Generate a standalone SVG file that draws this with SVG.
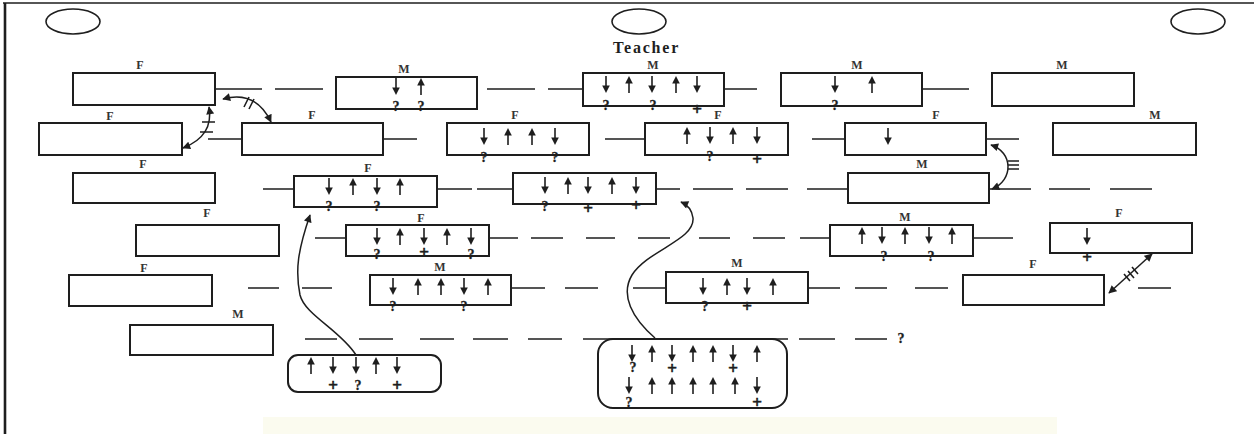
<svg xmlns="http://www.w3.org/2000/svg" xmlns:xlink="http://www.w3.org/1999/xlink" width="1256" height="434" viewBox="0 0 1256 434">
<style>
.bx{fill:#fff;stroke:#1e1e1e;stroke-width:2}
.rb{fill:none;stroke:#1e1e1e;stroke-width:1.6}
.ln{stroke:#1e1e1e;stroke-width:1.6;fill:none}
.cv{stroke:#1e1e1e;stroke-width:1.5;fill:none}
.lb{font-family:"Liberation Serif","Times New Roman",serif;font-weight:bold;font-size:12px;fill:#333;text-anchor:middle}
.mk{font-family:"Liberation Serif","Times New Roman",serif;font-weight:bold;font-size:14px;fill:#1e1e1e;stroke:#1e1e1e;stroke-width:0.3;text-anchor:middle}
.pl{font-family:"Liberation Serif","Times New Roman",serif;font-weight:bold;font-size:17px;fill:#1e1e1e;stroke:#1e1e1e;stroke-width:0.6;text-anchor:middle}
.ar line{stroke:#1e1e1e;stroke-width:1.6}
.ar path{fill:#1e1e1e}
</style>
<defs>
<g id="d" class="ar"><line x1="0" y1="0" x2="0" y2="11"/><path d="M-3.8,9.5 L3.8,9.5 L0,17 Z"/></g>
<g id="u" class="ar"><line x1="0" y1="17" x2="0" y2="6"/><path d="M-3.8,7.5 L3.8,7.5 L0,0 Z"/></g>
<marker id="ah" viewBox="0 0 10 10" refX="9" refY="5" markerWidth="9" markerHeight="8" markerUnits="userSpaceOnUse" orient="auto-start-reverse"><path d="M0,0 L10,5 L0,10 Z" fill="#1e1e1e"/></marker>
</defs>
<rect x="263" y="417" width="794" height="17" fill="#fbfbef"/>
<g id="frame">
<line x1="3" y1="3" x2="1254" y2="3" stroke="#1e1e1e" stroke-width="1.4"/>
<line x1="5" y1="3" x2="5" y2="434" stroke="#1e1e1e" stroke-width="2.6"/>
</g>
<g id="ellipse-left"><ellipse cx="73" cy="21.5" rx="27" ry="12.5" class="rb"/></g>
<g id="teacher"><ellipse cx="639" cy="21.5" rx="27" ry="12.5" class="rb"/>
<text x="613" y="53" font-family="'Liberation Serif','Times New Roman',serif" font-weight="bold" font-size="16" letter-spacing="1.8" fill="#1e1e1e">Teacher</text></g>
<g id="ellipse-right"><ellipse cx="1198" cy="21.5" rx="27" ry="12.5" class="rb"/></g>

<g id="connectors">
<path class="ln" d="M215,89H262M275,89H323M487,89H535M548,89H583M724,89H757M922,89H969"/>
<path class="ln" d="M208,139H242M383,139H417M605,139H645M812,139H845M986,139H1019"/>
<path class="ln" d="M263,189H294M437,189H472M477,189H513M656,189H680M693,189H733M746,189H788M807,189H848M989,189H1031M1049,189H1090M1110,189H1152"/>
<path class="ln" d="M315,238H346M489,238H518M531,238H563M586,238H615M638,238H670M699,238H730M753,238H785M800,238H830M973,238H1013"/>
<path class="ln" d="M248,288H279M302,288H332M511,288H545M565,288H598M633,288H666M808,288H840M855,288H887M915,288H948M1138,288H1171"/>
<path class="ln" d="M305,339H337M359,339H393M420,339H454M473,339H508M528,339H562M583,339H788M799,339H835M855,339H887"/>
<text class="mk" x="901" y="343">?</text>
<path class="cv" d="M223,99 Q256,90 271,122" marker-start="url(#ah)" marker-end="url(#ah)"/>
<path class="ln" d="M244,107 L249,97 M249,109 L254,99"/>
<path class="cv" d="M209,107 Q214,136 183,148" marker-start="url(#ah)" marker-end="url(#ah)"/>
<path class="ln" d="M202,122H215M200,132H213"/>
<path class="cv" d="M991,145 C1013,152 1014,180 992,189" marker-start="url(#ah)" marker-end="url(#ah)"/>
<path class="ln" d="M1008,161H1019M1008,165H1019M1008,169H1019"/>
<path class="cv" d="M1109,293 L1152,254" marker-start="url(#ah)" marker-end="url(#ah)"/>
<path class="ln" d="M1124,274 L1130,281 M1128,271 L1134,278 M1132,267 L1138,274"/>
<path class="cv" d="M356,355 C340,330 305,315 300,295 C295,270 298,250 310,215" marker-end="url(#ah)"/>
<path class="cv" d="M655,338 C632,318 620,295 632,275 C648,250 695,240 693,218 C692,210 688,205 681,202" marker-end="url(#ah)"/>
</g>

<g id="r1a"><rect class="bx" x="73" y="73" width="142" height="32"/><text class="lb" x="140" y="69">F</text></g>
<g id="r1b"><rect class="bx" x="336" y="77" width="141" height="32"/><text class="lb" x="404" y="73">M</text>
<use href="#d" x="396" y="78"/><use href="#u" x="421" y="78"/>
<text class="mk" x="396" y="111">?</text><text class="mk" x="421" y="111">?</text></g>
<g id="r1c"><rect class="bx" x="583" y="73" width="141" height="33"/><text class="lb" x="653" y="69">M</text>
<use href="#d" x="606" y="76"/><use href="#u" x="629" y="76"/><use href="#d" x="652" y="76"/><use href="#u" x="676" y="76"/><use href="#d" x="697" y="76"/>
<text class="mk" x="606" y="110">?</text><text class="mk" x="653" y="110">?</text><text class="pl" x="697" y="115">+</text></g>
<g id="r1d"><rect class="bx" x="781" y="73" width="141" height="33"/><text class="lb" x="857" y="69">M</text>
<use href="#d" x="835" y="76"/><use href="#u" x="872" y="76"/>
<text class="mk" x="835" y="110">?</text></g>
<g id="r1e"><rect class="bx" x="992" y="73" width="142" height="33"/><text class="lb" x="1062" y="69">M</text></g>

<g id="r2a"><rect class="bx" x="39" y="123" width="143" height="32"/><text class="lb" x="110" y="120">F</text></g>
<g id="r2b"><rect class="bx" x="242" y="123" width="141" height="32"/><text class="lb" x="312" y="119" font-size="14">F</text></g>
<g id="r2c"><rect class="bx" x="447" y="123" width="142" height="32"/><text class="lb" x="515" y="119">F</text>
<use href="#d" x="484" y="128"/><use href="#u" x="508" y="128"/><use href="#u" x="532" y="128"/><use href="#d" x="555" y="128"/>
<text class="mk" x="484" y="162">?</text><text class="mk" x="555" y="162">?</text></g>
<g id="r2d"><rect class="bx" x="645" y="123" width="143" height="32"/><text class="lb" x="718" y="119">F</text>
<use href="#u" x="687" y="127"/><use href="#d" x="710" y="127"/><use href="#u" x="733" y="127"/><use href="#d" x="757" y="127"/>
<text class="mk" x="710" y="161">?</text><text class="pl" x="757" y="165">+</text></g>
<g id="r2e"><rect class="bx" x="845" y="123" width="141" height="32"/><text class="lb" x="936" y="119">F</text>
<use href="#d" x="888" y="128"/></g>
<g id="r2f"><rect class="bx" x="1053" y="123" width="143" height="32"/><text class="lb" x="1155" y="119">M</text></g>

<g id="r3a"><rect class="bx" x="73" y="173" width="142" height="30"/><text class="lb" x="143" y="168">F</text></g>
<g id="r3b"><rect class="bx" x="294" y="176" width="143" height="31"/><text class="lb" x="368" y="172">F</text>
<use href="#d" x="329" y="178"/><use href="#u" x="353" y="178"/><use href="#d" x="377" y="178"/><use href="#u" x="400" y="178"/>
<text class="mk" x="329" y="211">?</text><text class="mk" x="377" y="211">?</text></g>
<g id="r3c"><rect class="bx" x="513" y="173" width="143" height="31"/>
<use href="#d" x="545" y="177"/><use href="#u" x="568" y="177"/><use href="#d" x="588" y="177"/><use href="#u" x="612" y="177"/><use href="#d" x="636" y="177"/>
<text class="mk" x="545" y="211">?</text><text class="pl" x="588" y="214">+</text><text class="pl" x="636" y="211">+</text></g>
<g id="r3d"><rect class="bx" x="848" y="173" width="141" height="30"/><text class="lb" x="922" y="168">M</text></g>

<g id="r4a"><rect class="bx" x="136" y="225" width="143" height="31"/><text class="lb" x="207" y="217">F</text></g>
<g id="r4b"><rect class="bx" x="346" y="225" width="143" height="31"/><text class="lb" x="421" y="222">F</text>
<use href="#d" x="377" y="228"/><use href="#u" x="400" y="228"/><use href="#d" x="424" y="228"/><use href="#u" x="447" y="228"/><use href="#d" x="471" y="228"/>
<text class="mk" x="377" y="259">?</text><text class="pl" x="424" y="258">+</text><text class="mk" x="471" y="259">?</text></g>
<g id="r4c"><rect class="bx" x="830" y="225" width="143" height="31"/><text class="lb" x="905" y="221">M</text>
<use href="#u" x="862" y="227"/><use href="#d" x="882" y="227"/><use href="#u" x="905" y="227"/><use href="#d" x="929" y="227"/><use href="#u" x="952" y="227"/>
<text class="mk" x="884" y="261">?</text><text class="mk" x="931" y="261">?</text></g>
<g id="r4d"><rect class="bx" x="1050" y="223" width="142" height="30"/><text class="lb" x="1119" y="217">F</text>
<use href="#d" x="1087" y="228"/><text class="pl" x="1087" y="263">+</text></g>

<g id="r5a"><rect class="bx" x="69" y="275" width="143" height="31"/><text class="lb" x="144" y="272">F</text></g>
<g id="r5b"><rect class="bx" x="370" y="275" width="141" height="30"/><text class="lb" x="440" y="271">M</text>
<use href="#d" x="393" y="278"/><use href="#u" x="418" y="278"/><use href="#u" x="441" y="278"/><use href="#d" x="464" y="278"/><use href="#u" x="488" y="278"/>
<text class="mk" x="393" y="311">?</text><text class="mk" x="464" y="311">?</text></g>
<g id="r5c"><rect class="bx" x="666" y="272" width="142" height="31"/><text class="lb" x="737" y="267">M</text>
<use href="#d" x="703" y="278"/><use href="#u" x="727" y="278"/><use href="#d" x="747" y="278"/><use href="#u" x="773" y="278"/>
<text class="mk" x="705" y="311">?</text><text class="pl" x="747" y="312">+</text></g>
<g id="r5d"><rect class="bx" x="963" y="275" width="141" height="30"/><text class="lb" x="1033" y="268">F</text></g>

<g id="r6a"><rect class="bx" x="130" y="325" width="143" height="30"/><text class="lb" x="238" y="318">M</text></g>

<g id="b1"><rect class="bx" x="288" y="355" width="153" height="37" rx="10" ry="10"/>
<use href="#u" x="311" y="357"/><use href="#d" x="333" y="357"/><use href="#d" x="356" y="357"/><use href="#u" x="376" y="357"/><use href="#d" x="397" y="357"/>
<text class="pl" x="333" y="391">+</text><text class="mk" x="358" y="390">?</text><text class="pl" x="397" y="391">+</text></g>
<g id="b2"><rect class="bx" x="598" y="339" width="189" height="69" rx="15" ry="15"/>
<use href="#d" x="632" y="345"/><use href="#u" x="652" y="345"/><use href="#d" x="672" y="345"/><use href="#u" x="693" y="345"/><use href="#u" x="713" y="345"/><use href="#d" x="733" y="345"/><use href="#u" x="757" y="345"/>
<text class="mk" x="633" y="372">?</text><text class="pl" x="672" y="374">+</text><text class="pl" x="733" y="374">+</text>
<use href="#d" x="629" y="377"/><use href="#u" x="652" y="377"/><use href="#u" x="672" y="377"/><use href="#u" x="693" y="377"/><use href="#u" x="713" y="377"/><use href="#u" x="735" y="377"/><use href="#d" x="757" y="377"/>
<text class="mk" x="629" y="407">?</text><text class="pl" x="757" y="408">+</text></g>
</svg>
